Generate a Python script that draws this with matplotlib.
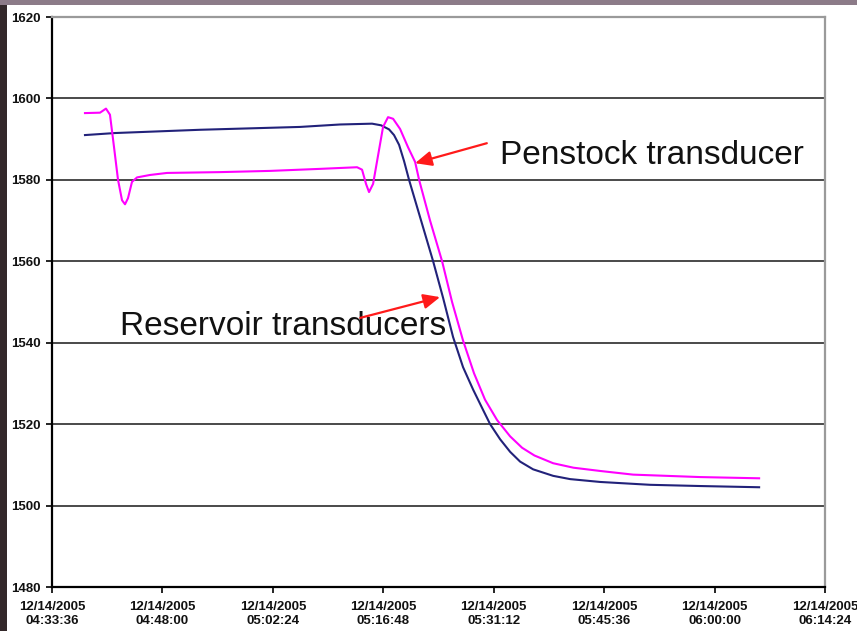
import matplotlib
matplotlib.use("Agg")
import matplotlib.pyplot as plt
from matplotlib.patches import Rectangle

# ---- data (time in minutes after 12/14/2005 04:33:36) ----
reservoir_t = [4.30, 8.22, 19.30, 32.35, 37.56, 41.74, 42.91, 43.95, 44.60, 45.26,
               45.91, 46.56, 48.13, 49.70, 51.00, 52.30, 53.60, 54.91, 56.21, 57.13,
               58.43, 59.74, 61.04, 62.74, 65.35, 67.56, 71.48, 78.00, 84.52, 92.21]
reservoir_v = [1591.0, 1591.5, 1592.3, 1593.0, 1593.6, 1593.8, 1593.4, 1592.4, 1591.0, 1588.6,
               1584.6, 1580.0, 1570.0, 1560.0, 1551.0, 1541.4, 1534.0, 1528.5, 1523.5, 1520.0,
               1516.3, 1513.2, 1510.8, 1508.9, 1507.3, 1506.5, 1505.8, 1505.1, 1504.8, 1504.5]

penstock_t = [4.30, 6.26, 7.04, 7.56, 8.09, 8.61, 9.13, 9.52, 9.91, 10.43,
              11.09, 12.78, 15.00, 21.91, 28.43, 34.96, 39.78, 40.43, 40.95, 41.34,
              41.87, 42.52, 43.17, 43.82, 44.48, 45.39, 46.43, 47.35, 47.87, 49.30,
              50.87, 52.17, 53.59, 55.03, 56.47, 58.04, 59.74, 61.30, 62.91, 65.35,
              68.00, 71.48, 75.78, 84.52, 92.21]
penstock_v = [1596.4, 1596.5, 1597.5, 1596.0, 1588.0, 1580.0, 1575.0, 1574.0, 1575.5, 1579.5,
              1580.6, 1581.2, 1581.7, 1581.9, 1582.2, 1582.7, 1583.1, 1582.5, 1579.0, 1577.0,
              1579.0, 1586.0, 1593.0, 1595.4, 1595.0, 1592.5, 1588.0, 1584.4, 1580.0, 1570.0,
              1560.0, 1550.0, 1540.6, 1532.5, 1526.0, 1521.0, 1517.0, 1514.2, 1512.3, 1510.4,
              1509.3, 1508.5, 1507.6, 1507.0, 1506.7]

x_ticks = [0, 14.4, 28.8, 43.2, 57.6, 72.0, 86.4, 100.8]
x_ticklabels = ["12/14/2005\n04:33:36", "12/14/2005\n04:48:00", "12/14/2005\n05:02:24",
                "12/14/2005\n05:16:48", "12/14/2005\n05:31:12", "12/14/2005\n05:45:36",
                "12/14/2005\n06:00:00", "12/14/2005\n06:14:24"]
y_ticks = [1480, 1500, 1520, 1540, 1560, 1580, 1600, 1620]

W, H = 857, 631
fig = plt.figure(figsize=(W / 100, H / 100), dpi=100)
fig.patch.set_facecolor("#33282a")
# white slide panel
fig.add_artist(Rectangle((7 / W, 0), 1 - 7 / W, 1 - 5 / H, transform=fig.transFigure,
                         facecolor="white", edgecolor="none", zorder=0))
fig.add_artist(Rectangle((0, 1 - 5 / H), 1, 5 / H, transform=fig.transFigure,
                         facecolor="#8c7b88", edgecolor="none", zorder=0))

ax = fig.add_axes([52 / W, 1 - 587 / H, (825 - 52) / W, (587 - 17) / H])
ax.set_facecolor("white")

ax.plot(reservoir_t, reservoir_v, color="#22227a", lw=1.5, zorder=3)
ax.plot(penstock_t, penstock_v, color="#ff00ff", lw=1.5, zorder=4)

ax.set_xlim(0, 100.8)
ax.set_ylim(1480, 1620)
ax.set_yticks(y_ticks)
ax.set_xticks(x_ticks)
ax.set_xticklabels(x_ticklabels, fontsize=9.5, fontweight="bold", family="Liberation Sans",
                   color="#111111", linespacing=1.2)
ax.set_yticklabels([str(v) for v in y_ticks], fontsize=9.5, fontweight="bold",
                   family="Liberation Sans", color="#111111")
ax.tick_params(axis="both", direction="out", length=4, width=1.2, color="black")
ax.tick_params(axis="x", pad=6)
ax.tick_params(axis="y", pad=4)

for v in y_ticks[1:-1]:
    ax.axhline(v, color="#3c3c3c", lw=1.3, zorder=1)

for s in ["left", "bottom"]:
    ax.spines[s].set_color("black")
    ax.spines[s].set_linewidth(1.6)
for s in ["top", "right"]:
    ax.spines[s].set_color("#9a9a9a")
    ax.spines[s].set_linewidth(1.6)

# annotations
ax.annotate("", xy=(47.35, 1584.1), xytext=(56.7, 1589.0),
            arrowprops=dict(arrowstyle="-|>,head_length=1.0,head_width=0.45",
                            color="#ff1a1a", lw=1.6, shrinkA=0, shrinkB=0), zorder=5)
ax.annotate("", xy=(50.6, 1551.2), xytext=(40.2, 1546.1),
            arrowprops=dict(arrowstyle="-|>,head_length=1.0,head_width=0.45",
                            color="#ff1a1a", lw=1.6, shrinkA=0, shrinkB=0), zorder=5)
ax.text(58.4, 1583.9, "Penstock transducer", fontsize=24, family="Liberation Sans",
        color="#111111", va="baseline", ha="left", zorder=6)
ax.text(8.9, 1541.9, "Reservoir transducers", fontsize=24, family="Liberation Sans",
        color="#111111", va="baseline", ha="left", zorder=2)

fig.savefig("out.png", dpi=100, facecolor=fig.get_facecolor())
